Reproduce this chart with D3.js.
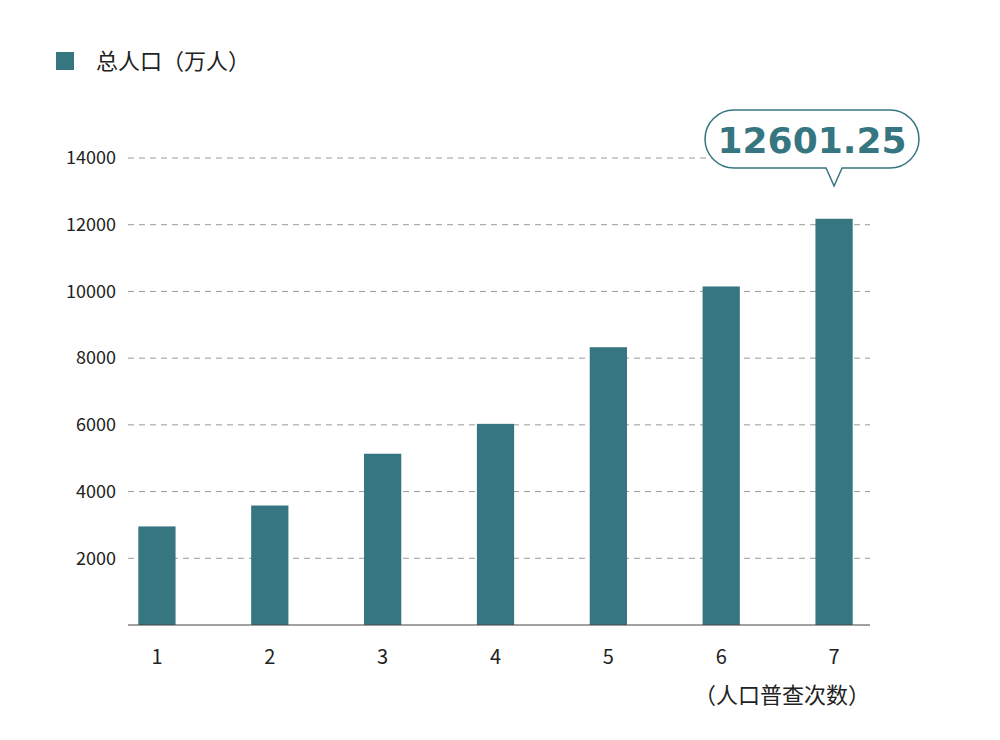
<!DOCTYPE html>
<html><head><meta charset="utf-8">
<script src="https://cdn.jsdelivr.net/npm/d3@7"></script>
<style>body{margin:0;background:#fff;}</style></head>
<body><svg id="c" width="1000" height="740"></svg>
<script>
const categories = ["1","2","3","4","5","6","7"];
const values = [2955, 3582, 5134, 6030, 8328, 10149, 12179];
const yTicks = [2000,4000,6000,8000,10000,12000,14000];
const legendLabel = "总人口（万人）";
const xTitle = "（人口普查次数）";
const callout = "12601.25";
const color = "#367680";
const font = "'Noto Sans CJK SC','Noto Sans',sans-serif";

const svg = d3.select("#c");
const x = d3.scaleBand().domain(categories).range([118, 873]).paddingInner(0.67).paddingOuter(0.18);
const y = d3.scaleLinear().domain([0,14000]).range([625,158]);

const grid = svg.append("g");
yTicks.forEach(t=>{
  grid.append("line").attr("x1",128).attr("x2",870).attr("y1",y(t)).attr("y2",y(t))
    .attr("stroke","#999").attr("stroke-dasharray","6,5").attr("stroke-width",1);
  grid.append("text").attr("x",116).attr("y",y(t)).attr("dy","0.35em").attr("text-anchor","end")
    .attr("font-family",font).attr("font-size",18).attr("fill","#222").text(t);
});
svg.append("g").selectAll("rect").data(values).join("rect")
  .attr("x",(d,i)=>x(categories[i])).attr("width",x.bandwidth())
  .attr("y",d=>y(d)).attr("height",d=>y(0)-y(d)).attr("fill",color);
svg.append("line").attr("x1",128).attr("x2",870).attr("y1",y(0)).attr("y2",y(0)).attr("stroke","#444").attr("stroke-width",1.2);
categories.forEach(c=>{
  svg.append("text").attr("x",x(c)+x.bandwidth()/2).attr("y",664).attr("text-anchor","middle")
   .attr("font-family",font).attr("font-size",20).attr("fill","#222").text(c);
});
svg.append("text").attr("x",870).attr("y",703).attr("text-anchor","end")
  .attr("font-family",font).attr("font-size",22).attr("fill","#222").text(xTitle);
// legend
svg.append("rect").attr("x",56).attr("y",52).attr("width",18).attr("height",18).attr("fill",color);
svg.append("text").attr("x",96).attr("y",69).attr("font-family",font).attr("font-size",22).attr("fill","#222").text(legendLabel);
// callout
const cx = x("7")+x.bandwidth()/2;
const L=706,R=918,T=110,B=168,r=28;
svg.append("path").attr("d",
 `M${L+r},${T} H${R-r} A${r},${r} 0 0 1 ${R-r},${B} H${cx+8} L${cx},${B+18} L${cx-8},${B} H${L+r} A${r},${r} 0 0 1 ${L+r},${T} Z`)
 .attr("fill","#fff").attr("stroke",color).attr("stroke-width",1.5);
svg.append("text").attr("x",(L+R)/2).attr("y",153).attr("text-anchor","middle")
  .attr("font-family","'DejaVu Sans',sans-serif").attr("font-weight","bold").attr("font-size",36).attr("fill",color).text(callout);
</script></body></html>
